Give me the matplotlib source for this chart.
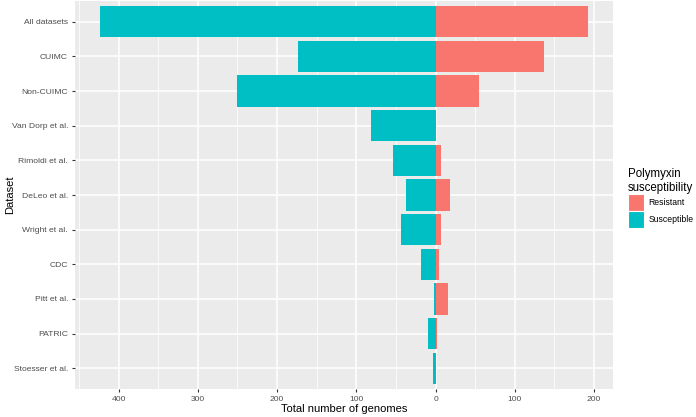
import numpy as np
import matplotlib.pyplot as plt
from matplotlib.patches import Patch
from matplotlib.ticker import MultipleLocator, FuncFormatter

plt.rcParams['font.family'] = ['Liberation Sans', 'DejaVu Sans']

datasets = ['All datasets', 'CUIMC', 'Non-CUIMC', 'Van Dorp et al.', 'Rimoldi et al.',
            'DeLeo et al.', 'Wright et al.', 'CDC', 'Pitt et al.', 'PATRIC', 'Stoesser et al.']
susceptible = [424, 174, 250, 82, 54, 37, 44, 18, 2, 9, 3]
resistant = [193, 137, 55, 1, 7, 18, 7, 4, 16, 2, 0]

red = '#F8766D'
teal = '#00BFC4'

fig = plt.figure(figsize=(6.96, 4.17), dpi=100)
ax = fig.add_axes([75/696, 1 - 389/417, (613 - 75)/696, 388/417])
ax.set_facecolor('#EBEBEB')

y = np.arange(len(datasets))
ax.barh(y, [-v for v in susceptible], height=0.9, color=teal, zorder=3)
ax.barh(y, resistant, height=0.9, color=red, zorder=3)

ax.set_ylim(len(datasets) - 0.4, -0.6)
ax.set_xlim(-455, 224)
ax.set_yticks(y)
ax.set_yticklabels(datasets)
ax.xaxis.set_major_locator(MultipleLocator(100))
ax.xaxis.set_minor_locator(MultipleLocator(50))
ax.xaxis.set_major_formatter(FuncFormatter(lambda v, p: f'{abs(int(v))}'))

ax.grid(True, which='major', color='white', linewidth=1.1, zorder=0)
ax.grid(True, which='minor', axis='x', color='white', linewidth=0.55, zorder=0)
ax.set_axisbelow(True)
for s in ax.spines.values():
    s.set_visible(False)
ax.tick_params(axis='both', which='major', labelsize=6.1, colors='#333333',
               length=2.5, width=0.8, labelcolor='#4D4D4D', pad=2.5)
ax.tick_params(axis='x', which='minor', length=0)

ax.set_xlabel('Total number of genomes', fontsize=8, labelpad=1)
ax.set_ylabel('Dataset', fontsize=8)
ax.yaxis.set_label_coords(-0.112, 0.5)

# legend keys with thin white border like ggplot
handles = [Patch(facecolor=red, edgecolor='white', linewidth=0.8, label='Resistant'),
           Patch(facecolor=teal, edgecolor='white', linewidth=0.8, label='Susceptible')]
leg = fig.legend(handles=handles, title='Polymyxin\nsusceptibility', loc='upper left',
                 bbox_to_anchor=(620/696, 1 - 160/417), frameon=False, fontsize=6.2,
                 title_fontsize=8.3, handlelength=1.86, handleheight=2.67,
                 handletextpad=0.55, labelspacing=0.0, alignment='left')

fig.savefig('out.png', dpi=100)
